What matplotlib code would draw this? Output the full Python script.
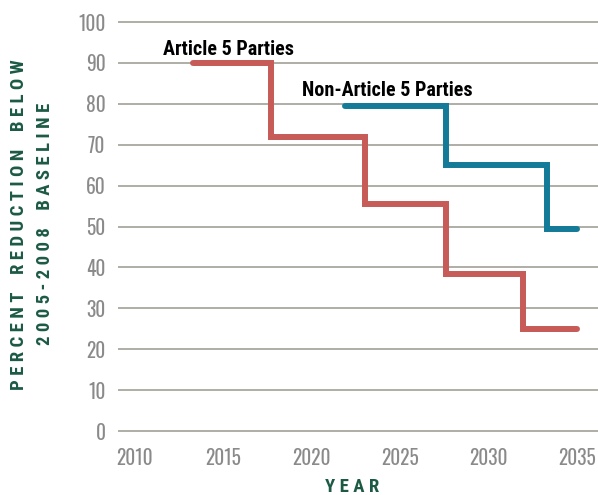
import matplotlib.pyplot as plt

# step edges (years) and reduction levels
art5_years = [2013.3, 2017.7, 2023.0, 2027.6, 2031.9, 2035.0]
art5_levels = [90, 72, 55.5, 38.5, 25, 25]
non_art5_years = [2021.9, 2027.6, 2033.3, 2035.0]
non_art5_levels = [79.5, 65, 49.5, 49.5]

x_ticks = [2010, 2015, 2020, 2025, 2030, 2035]
y_ticks = list(range(0, 101, 10))

RED = "#c65b57"
BLUE = "#137a98"
GREEN = "#1c5a44"
GRID = "#aeaea6"
TICK_FONT = ["Oswald", "Roboto Condensed", "Liberation Sans Narrow", "DejaVu Sans"]
BOLD_FONT = ["Roboto Condensed", "Liberation Sans Narrow", "DejaVu Sans"]

fig = plt.figure(figsize=(5.98, 4.95), dpi=100)
ax = fig.add_axes([0.1973, 0.121, 0.8027, 0.8428])

ax.step(art5_years, art5_levels, where="post", color=RED, linewidth=4.3,
        solid_capstyle="round", solid_joinstyle="miter", zorder=3)
ax.step(non_art5_years, non_art5_levels, where="post", color=BLUE, linewidth=4.3,
        solid_capstyle="round", solid_joinstyle="miter", zorder=3)

ax.text(2011.6, 93.4, "Article 5 Parties", family=BOLD_FONT, fontweight="bold",
        fontsize=14.5, color="black", va="center", ha="left")
ax.text(2019.45, 83.2, "Non-Article 5 Parties", family=BOLD_FONT, fontweight="bold",
        fontsize=14.5, color="black", va="center", ha="left")

ax.set_xlim(2009.07, 2036.16)
ax.set_ylim(-1, 101)
ax.set_xticks(x_ticks)
ax.set_yticks(y_ticks)
ax.grid(axis="y", color=GRID, linewidth=1.4)
ax.set_axisbelow(True)
for s in ax.spines.values():
    s.set_visible(False)
ax.tick_params(length=0, labelsize=14, labelcolor="#8a8a8a", pad=9)
for lbl in ax.get_xticklabels() + ax.get_yticklabels():
    lbl.set_family(TICK_FONT)
    lbl.set_fontweight("light")

def spaced(s):
    return " ".join(s).replace("   ", "    ")

fig.text(0.031, 0.547, spaced("PERCENT REDUCTION BELOW"), rotation=90, family=BOLD_FONT,
         fontweight="bold", fontsize=13.5, color=GREEN, ha="center", va="center")
fig.text(0.076, 0.547, spaced("2005-2008 BASELINE"), rotation=90, family=BOLD_FONT,
         fontweight="bold", fontsize=13.5, color=GREEN, ha="center", va="center")
fig.text(0.589, 0.016, spaced("YEAR"), family=BOLD_FONT, fontweight="bold",
         fontsize=13.5, color=GREEN, ha="center", va="center")

fig.savefig("out.png", dpi=100, facecolor="white")
